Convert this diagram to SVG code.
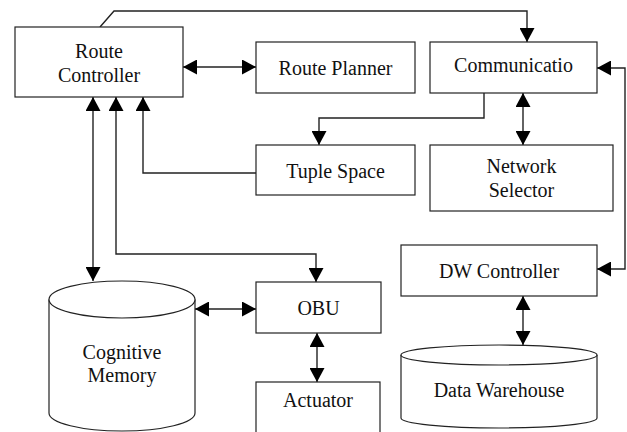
<svg xmlns="http://www.w3.org/2000/svg" width="627" height="432" viewBox="0 0 627 432">
<style>
.box{fill:#fff;stroke:#222;stroke-width:1.2}
.cyl{fill:#fff;stroke:#222;stroke-width:1.2}
.lbl{font-size:20px;fill:#111;text-anchor:middle}
.con{fill:none;stroke:#222;stroke-width:1.4}
.bi{marker-start:url(#ah);marker-end:url(#ah)}
.one{marker-end:url(#ah)}
</style>
<defs>
<marker id="ah" markerUnits="userSpaceOnUse" markerWidth="15" markerHeight="15" refX="14" refY="7.5" orient="auto-start-reverse">
<path d="M0,0 L14,7.5 L0,15 z" fill="#000"/>
</marker>
</defs>
<rect width="627" height="432" fill="#fff"/>
<g id="connectors">
<path class="con one" d="M100,27 L114,11 L527,11 L527,42"/>
<path class="con bi" d="M183,67 L256,67"/>
<path class="con bi" d="M597,68 L625,68 L625,269 L597,269"/>
<path class="con one" d="M484,93 L484,118 L319,118 L319,145"/>
<path class="con bi" d="M523,93 L523,145"/>
<path class="con one" d="M256,173 L143,173 L143,97"/>
<path class="con bi" d="M93,97 L93,281"/>
<path class="con bi" d="M116,97 L116,254 L316,254 L316,282"/>
<path class="con bi" d="M195,309 L256,309"/>
<path class="con bi" d="M317,333 L317,382"/>
<path class="con bi" d="M523,296 L523,345"/>
</g>
<g font-family="Liberation Serif, Times New Roman, serif">
<g id="route-controller">
<rect class="box" x="15" y="27" width="168" height="70"/>
<text class="lbl" x="99" y="58">Route</text>
<text class="lbl" x="99" y="82">Controller</text>
</g>
<g id="route-planner">
<rect class="box" x="256" y="42" width="159" height="51"/>
<text class="lbl" x="335.5" y="75">Route Planner</text>
</g>
<g id="communication">
<rect class="box" x="430" y="42" width="167" height="51"/>
<text class="lbl" x="513.5" y="72">Communicatio</text>
</g>
<g id="tuple-space">
<rect class="box" x="256" y="145" width="159" height="50"/>
<text class="lbl" x="335.5" y="178">Tuple Space</text>
</g>
<g id="network-selector">
<rect class="box" x="430" y="145" width="183" height="66"/>
<text class="lbl" x="521.5" y="173">Network</text>
<text class="lbl" x="521.5" y="197">Selector</text>
</g>
<g id="dw-controller">
<rect class="box" x="401" y="245" width="196" height="51"/>
<text class="lbl" x="499" y="278">DW Controller</text>
</g>
<g id="obu">
<rect class="box" x="256" y="282" width="125" height="51"/>
<text class="lbl" x="318.5" y="315">OBU</text>
</g>
<g id="actuator">
<rect class="box" x="256" y="382" width="124" height="60"/>
<text class="lbl" x="318" y="407">Actuator</text>
</g>
<g id="cognitive-memory">
<path class="cyl" d="M49,299.5 L49,413 A73,18 0 0 0 195,413 L195,299.5"/>
<ellipse class="cyl" cx="122" cy="299.5" rx="73" ry="18.5"/>
<text class="lbl" x="122" y="359">Cognitive</text>
<text class="lbl" x="122" y="382">Memory</text>
</g>
<g id="data-warehouse">
<path class="cyl" d="M401,355 L401,418 A98,10 0 0 0 597,418 L597,355"/>
<ellipse class="cyl" cx="499" cy="355" rx="98" ry="10"/>
<text class="lbl" x="499" y="397">Data Warehouse</text>
</g>
</g>
</svg>
